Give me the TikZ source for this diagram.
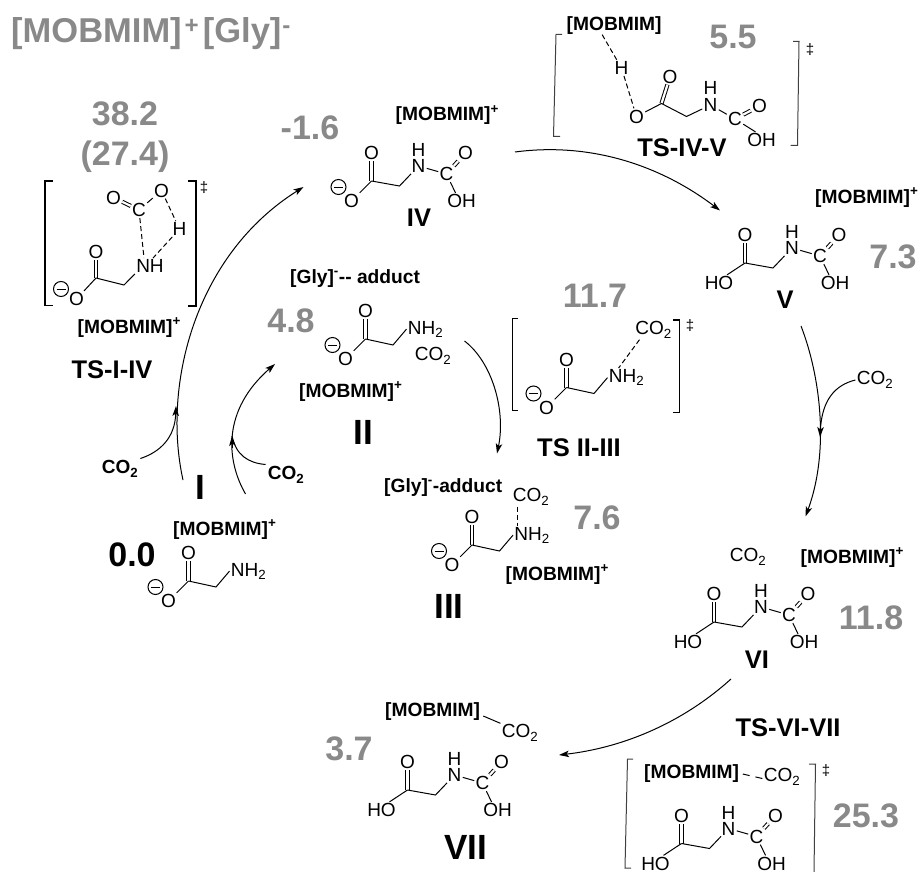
\documentclass[tikz,border=0pt]{standalone}
\usepackage{fontspec}
\setmainfont{Liberation Sans}
\usetikzlibrary{arrows.meta}
\newcommand{\fsz}[1]{\fontsize{#1}{#1}\selectfont}
\newcommand{\mobp}{[MOBMIM]\textsuperscript{+}}
\newcommand{\cotwo}{CO\textsubscript{2}}
\newcommand{\rightpart}{%
  \coordinate (-c1) at (0,0);
  \coordinate (-ch) at (28,5);
  \node[atom] (-o1) at (0,-28) {O};
  \node[atom] (-n) at (47,-15) {N};
  \node[atom] (-h) at (47,-31) {H};
  \node[atom] (-c) at (75,-7) {C};
  \node[atom] (-o3) at (94,-28) {O};
  \node[atom] (-oh) at (90,20) {OH};
  \draw[dbl] (-c1) -- (-o1);
  \draw[bond] (-c1) -- (-ch) -- (-n);
  \draw[bond] (-n) -- (-c);
  \draw[dbl] (-c) -- (-o3);
  \draw[bond] (-c) -- ([xshift=-6pt]-oh.north);
}
\newcommand{\anionend}{%
  \node[atom] (-o2) at (-20,20) {O};
  \coordinate (-m) at (-33,6);
  \draw[bond] (-m) circle[radius=7.5pt];
  \draw[bond] ([xshift=-4.5pt]-m) -- ([xshift=4.5pt]-m);
  \draw[bond] (-c1) -- (-o2);
}
\tikzset{
  atom/.style={inner sep=1.2pt,font=\fsz{19}},
  bond/.style={line width=1pt,black},
  dbl/.style={bond,double,double distance=2.2pt},
  dsh/.style={bond,dash pattern=on 5pt off 3pt},
  brk/.style={line width=1.7pt,black},
  tbrk/.style={line width=1pt,black!75},
  energy/.style={inner sep=0pt,text=gray50,font=\fsz{34}\bfseries},
  tslab/.style={inner sep=0pt,font=\fsz{25.5}\bfseries},
  roman/.style={inner sep=0pt,font=\fsz{35}\bfseries},
  cat/.style={inner sep=0pt,anchor=base west,font=\fsz{19.2}\bfseries},
  dagg/.style={inner sep=0pt,font=\fsz{15}},
  rxn/.style={line width=1pt,black,-{Stealth[length=10pt,width=6.5pt,inset=2.5pt]}},
  glyan/.pic={
    \coordinate (-c1) at (0,0);
    \coordinate (-ch) at (27.5,6);
    \node[atom] (-o1) at (0,-28) {O};
    \node[atom,anchor=base west] (-n) at (41,-5) {NH\textsubscript{2}};
    \draw[dbl] (-c1) -- (-o1);
    \draw[bond] (-c1) -- (-ch) -- (-n.west);
    \anionend
  },
  carbamate/.pic={\rightpart\anionend},
  diacid/.pic={
    \rightpart
    \node[atom] (-ho) at (-26,20) {HO};
    \draw[bond] (-c1) -- ([xshift=8pt]-ho.north);
  }
}
\definecolor{gray50}{HTML}{898989}
\begin{document}
\begin{tikzpicture}[x=1pt,y=-1pt]
\useasboundingbox (0,0) rectangle (921,872);
% title
\node[inner sep=0pt,anchor=base west,text=gray50,font=\fsz{34.5}\bfseries] (title) at (11,43) {[MOBMIM]\kern3pt\textsuperscript{+}\kern3.5pt[Gly]\kern1pt\textsuperscript{-}};
% energies
\node[energy] (e1a) at (125,114) {38.2};
\node[energy] (e1b) at (125,157) {(27.4)};
\node[energy] (e2) at (310,128) {-1.6};
\node[energy] (e3) at (291,321) {4.8};
\node[energy] (e4) at (733,37) {5.5};
\node[energy] (e5) at (893,257) {7.3};
\node[energy] (e6) at (595,296) {11.7};
\node[energy] (e7) at (597,518) {7.6};
\node[energy] (e8) at (871,618) {11.8};
\node[energy] (e9) at (866,816) {25.3};
\node[energy] (e10) at (349,749) {3.7};
\node[energy,text=black] (e0) at (132,555) {0.0};
% TS and roman labels
\node[tslab] (ts1) at (112,370) {TS-I-IV};
\node[tslab] (ts2) at (682,148) {TS-IV-V};
\node[tslab] (ts3) at (579,448) {TS II-III};
\node[tslab] (ts4) at (788,728) {TS-VI-VII};
\node[roman] (rI) at (200,487) {I};
\node[roman] (rII) at (363,432) {II};
\node[roman] (rIII) at (449,606) {III};
\node[tslab] (rIV) at (419,218) {IV};
\node[tslab] (rV) at (785,300) {V};
\node[tslab] (rVI) at (757,660) {VI};
\node[roman] (rVII) at (466,847) {VII};
% cation labels
\node[cat] (c1) at (173,535) {\mobp};
\node[cat] (c2) at (299,397) {\mobp};
\node[cat] (c3) at (505.5,580) {\mobp};
\node[cat] (c4) at (395.5,121) {\mobp};
\node[cat] (c5) at (815,203) {\mobp};
\node[cat] (c6) at (800.5,563) {\mobp};
\node[cat] (c7) at (77.5,333) {\mobp};
\node[cat] (g1) at (290,283) {[Gly]\textsuperscript{-}-{}- adduct};
\node[cat] (g2) at (384,492) {[Gly]\textsuperscript{-}-adduct};
% molecules
\pic (mI) at (188.5,581) {glyan};
\pic (mII) at (365.5,339) {glyan};
\pic (mIII) at (472,545) {glyan};
\pic (mIV) at (371.5,181) {carbamate};
\pic (mV) at (745,263) {diacid};
\pic (mVI) at (714,622) {diacid};
\pic (mVII) at (407.5,790) {diacid};
\pic (mTS) at (681.5,843.5) {diacid};
% II CO2
\node[atom] (co2II) at (433,356) {\cotwo};
% III CO2
\node[atom] (co2III) at (531,497) {\cotwo};
\draw[dsh] (co2III.south west) ++(6pt,0pt) coordinate (p3) -- (p3 |- mIII-n.north);
% VI CO2
\node[atom] (co2VI) at (748,557) {\cotwo};
% VII
\node[cat] (c8) at (385,716) {[MOBMIM]};
\node[atom] (co2VII) at (520,733) {\cotwo};
\draw[bond] (c8.east) ++(3pt,-5pt) coordinate (p8) -- (co2VII.north west);
% TS-VI-VII
\node[cat] (c9) at (644,778) {[MOBMIM]};
\node[atom] (co2TS) at (782,777) {\cotwo};
\draw[bond,dash pattern=on 7pt off 6pt] ([xshift=3.5pt,yshift=-1pt]c9.east) -- ([yshift=-1.5pt]co2TS.west);
\draw[tbrk] (633,759) -- (627.5,759) -- (625,868) -- (631,868);
\draw[tbrk] (809,764) -- (815.5,764) -- (814,872);
\node[dagg] (dg4) at (826,771) {‡};
% TS II-III
\pic (mTS3) at (566.5,387.5) {glyan};
\node[atom] (co2T3) at (653.5,330) {\cotwo};
\draw[dsh] ([xshift=-14pt]co2T3.south) -- ([xshift=-8pt]mTS3-n.north);
\draw[brk] (518,318.5) -- (512.5,318.5) -- (512.5,410.5) -- (518,410.5);
\draw[brk] (673,320) -- (679.5,320) -- (679.5,412.5) -- (673,412.5);
\node[dagg] (dg3) at (690,326) {‡};
% TS-I-IV
\coordinate (t1c1) at (96,278);
\coordinate (t1ch) at (124,285);
\node[atom] (t1o1) at (96,252) {O};
\node[atom] (t1o2) at (76.5,299) {O};
\coordinate (t1m) at (61,289);
\node[atom] (t1nh) at (150,266) {NH};
\node[atom] (t1c) at (139,210) {C};
\node[atom] (t1o3) at (113.5,197.5) {O};
\node[atom] (t1o4) at (161.5,190.5) {O};
\node[atom] (t1h) at (179.5,229) {H};
\draw[bond] (t1m) circle[radius=7.5pt];
\draw[bond] ([xshift=-4.5pt]t1m) -- ([xshift=4.5pt]t1m);
\draw[dbl] (t1c1) -- (t1o1);
\draw[bond] (t1o2) -- (t1c1) -- (t1ch) -- (t1nh.south west);
\draw[dbl] (t1c) -- (t1o3);
\draw[bond] (t1c) -- (t1o4);
\draw[dsh] (t1c) -- ([xshift=-6pt]t1nh.north);
\draw[dsh] (t1o4) -- (t1h);
\draw[dsh] (t1h) -- ([xshift=3pt]t1nh.north);
\draw[brk] (52.5,181) -- (45,181) -- (45,305.5) -- (52.5,305.5);
\draw[brk] (188,181) -- (196,181) -- (196,306) -- (188,306);
\node[dagg] (dg1) at (204,188) {‡};
% TS-IV-V
\node[cat] (c10) at (566.5,30.5) {[MOBMIM]};
\coordinate (t2c1) at (661.5,103.5);
\coordinate (t2ch) at (686.5,116.5);
\node[atom] (t2h0) at (621.5,68) {H};
\node[atom] (t2o1) at (670,76.5) {O};
\node[atom] (t2o2) at (636.5,116.5) {O};
\node[atom] (t2n) at (710.5,105) {N};
\node[atom] (t2h) at (710.5,88) {H};
\node[atom] (t2c) at (735,119) {C};
\node[atom] (t2o3) at (759.5,106) {O};
\node[atom] (t2oh) at (761.5,140) {OH};
\draw[dsh] ([xshift=-12pt]c10.south) -- (t2h0);
\draw[dsh] (t2h0) -- (t2o2);
\draw[dbl] (t2c1) -- (t2o1);
\draw[bond] (t2o2) -- (t2c1) -- (t2ch) -- (t2n);
\draw[bond] (t2n) -- (t2c);
\draw[dbl] (t2c) -- (t2o3);
\draw[bond] (t2c) -- ([xshift=-6pt]t2oh.north);
\draw[tbrk] (562,34.5) -- (556,34.5) -- (553.5,136.5) -- (560,136.5);
\draw[tbrk] (793,41.5) -- (799,41.5) -- (797.5,145.5) -- (790.5,145.5);
\node[dagg] (dg2) at (810,49.5) {‡};
% reaction arrows
\node[atom,inner sep=2pt,font=\fsz{19}\bfseries] (co2a) at (120,469) {\cotwo};
\node[atom,inner sep=2pt,font=\fsz{19}\bfseries] (co2b) at (286,475) {\cotwo};
\node[atom] (co2c) at (875,380) {\cotwo};
\coordinate (a1s) at (183,480);
\coordinate (a1e) at (303.5,187);
\coordinate (a1m) at (176,406);
\draw[rxn] (a1s) .. controls (162,385) and (195,255) .. (a1e);
\draw[rxn] (co2a.north east) .. controls (160,452) and (175,438) .. (a1m);
\coordinate (a2s) at (245.5,494);
\coordinate (a2e) at (275,364);
\coordinate (a2m) at (232,436);
\draw[rxn] (a2s) .. controls (226,460) and (222,410) .. (a2e);
\draw[bond] (co2b.north west) .. controls (248,463) and (236,455) .. (a2m);
\draw[rxn] (232.5,448) -- (a2m);
\coordinate (a3s) at (464.5,341);
\coordinate (a3e) at (497,453.5);
\draw[rxn] (a3s) .. controls (492,362) and (506,410) .. (a3e);
\coordinate (a4s) at (515,152);
\coordinate (a4e) at (720,210.5);
\draw[rxn] (a4s) .. controls (590,142) and (660,165) .. (a4e);
\coordinate (a5s) at (801,326);
\coordinate (a5e) at (805.5,516.5);
\coordinate (a5m) at (820,437);
\draw[rxn] (a5s) .. controls (820,375) and (830,450) .. (a5e);
\draw[rxn] (co2c.west) .. controls (835,385) and (822,400) .. (a5m);
\coordinate (a6s) at (731,679);
\coordinate (a6e) at (559,755);
\draw[rxn] (a6s) .. controls (680,725) and (620,748) .. (a6e);
\end{tikzpicture}
\end{document}
